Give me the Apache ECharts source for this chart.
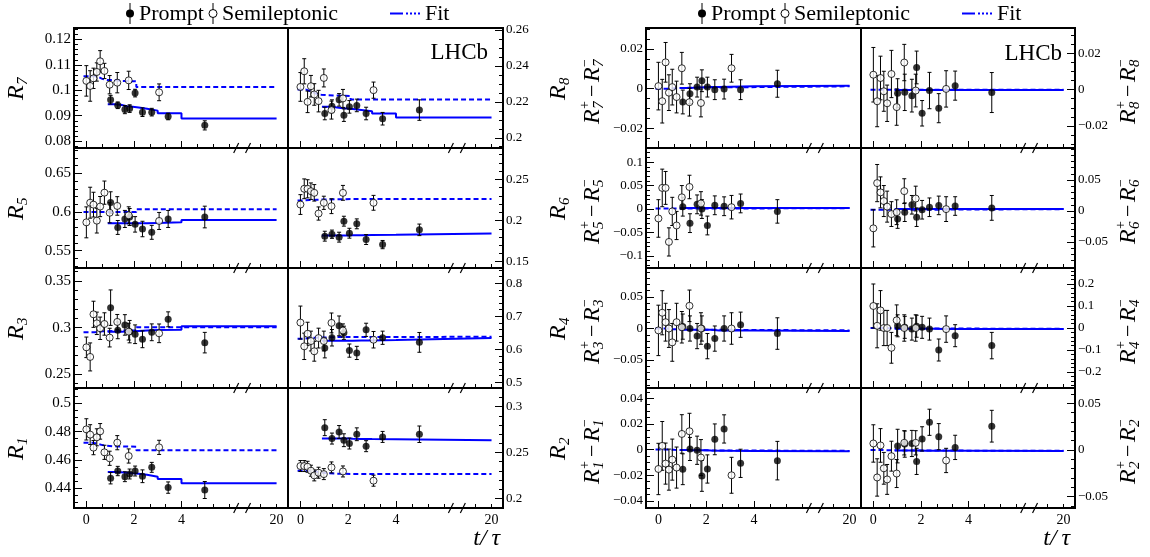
<!DOCTYPE html>
<html>
<head>
<meta charset="utf-8">
<script src="https://cdn.jsdelivr.net/npm/echarts@6/dist/echarts.min.js"></script>
<style>
  html, body { margin: 0; padding: 0; background: #fff; }
  #chart { width: 1150px; height: 557px; }
</style>
</head>
<body>
<div id="chart"></div>
<script>
// ---- time binning (t / tau) ----
const tPrompt = [1.02, 1.32, 1.62, 1.82, 2.05, 2.36, 2.75, 3.44, 4.98];
const tSemi = [0, 0.16, 0.3, 0.44, 0.58, 0.76, 0.98, 1.3, 1.78, 3.06];
const edgesPrompt = [0.9, 1.15, 1.45, 1.7, 1.95, 2.2, 2.55, 3.0, 4.0, 20];
const edgesSemi = [-0.12, 0.08, 0.23, 0.37, 0.51, 0.67, 0.87, 1.12, 1.5, 2.1, 20];

// ---- measured ratios: [value, uncertainty] per time bin; fit levels per bin ----
const R7_prompt = [[0.0963,0.0017],[0.0941,0.0013],[0.0924,0.0016],[0.0928,0.0015],[0.0989,0.0015],[0.0914,0.0017],[0.0914,0.0015],[0.0897,0.0013],[0.0862,0.0018]];
const R7_semi = [[0.1037,0.006],[0.1017,0.006],[0.1047,0.004],[0.1072,0.0036],[0.1114,0.0042],[0.1076,0.003],[0.1022,0.0036],[0.103,0.004],[0.1039,0.0036],[0.0992,0.0033]];
const R7_fitPrompt = [0.0945,0.0943,0.0937,0.0935,0.0932,0.0927,0.092,0.091,0.0889];
const R7_fitSemi = [0.1055,0.1055,0.1055,0.1052,0.1045,0.104,0.104,0.1037,0.1035,0.1013];

const R8_prompt = [[0.2135,0.0035],[0.2176,0.0035],[0.2211,0.0035],[0.2126,0.0035],[0.2172,0.0035],[0.218,0.0035],[0.2135,0.0035],[0.2106,0.0035],[0.2154,0.0057]];
const R8_semi = [[0.2283,0.008],[0.237,0.007],[0.22,0.006],[0.2287,0.006],[0.2241,0.006],[0.2204,0.006],[0.2333,0.005],[0.2154,0.005],[0.2219,0.005],[0.2265,0.0045]];
const R8_fitPrompt = [0.2172,0.217,0.2166,0.2163,0.216,0.2155,0.2148,0.2135,0.2113];
const R8_fitSemi = [0.2268,0.2268,0.2262,0.2255,0.2245,0.224,0.2237,0.2235,0.2233,0.2213];

const R5_prompt = [[0.6121,0.014],[0.58,0.009],[0.591,0.011],[0.5935,0.011],[0.584,0.01],[0.578,0.01],[0.5737,0.009],[0.591,0.011],[0.5935,0.014]];
const R5_semi = [[0.5866,0.02],[0.612,0.02],[0.6095,0.016],[0.5888,0.016],[0.607,0.013],[0.625,0.015],[0.599,0.013],[0.6078,0.012],[0.5957,0.011],[0.5884,0.011]];
const R5_fitPrompt = [0.5853,0.5853,0.5853,0.5853,0.5853,0.5853,0.5858,0.5866,0.5897];
const R5_fitSemi = [0.6,0.6,0.6,0.6,0.6,0.6,0.6,0.6,0.6,0.6035];

const R6_prompt = [[0.181,0.006],[0.1834,0.005],[0.1798,0.006],[0.1992,0.006],[0.1846,0.006],[0.196,0.006],[0.1769,0.006],[0.1708,0.005],[0.1887,0.007]];
const R6_semi = [[0.2194,0.012],[0.2385,0.012],[0.2385,0.011],[0.2356,0.01],[0.2336,0.01],[0.2085,0.008],[0.2215,0.008],[0.2174,0.009],[0.2336,0.009],[0.2215,0.009]];
const R6_fitPrompt = [0.1818,0.1818,0.1818,0.1818,0.182,0.1822,0.1824,0.1826,0.1842];
const R6_fitSemi = [0.2243,0.2245,0.2248,0.225,0.2252,0.2254,0.2256,0.2258,0.226,0.2262];

const R3_prompt = [[0.3214,0.019],[0.2971,0.009],[0.3029,0.011],[0.2957,0.012],[0.2929,0.01],[0.2875,0.009],[0.295,0.009],[0.3089,0.008],[0.2839,0.011]];
const R3_semi = [[0.2789,0.011],[0.2686,0.015],[0.3143,0.014],[0.3046,0.012],[0.2993,0.012],[0.3039,0.012],[0.2893,0.01],[0.3061,0.008],[0.2957,0.009],[0.2939,0.01]];
const R3_fitPrompt = [0.2957,0.2957,0.2958,0.296,0.2965,0.297,0.2975,0.2978,0.3015];
const R3_fitSemi = [0.295,0.295,0.295,0.2955,0.296,0.2962,0.2965,0.2968,0.297,0.3005];

const R4_prompt = [[0.604,0.03],[0.635,0.025],[0.671,0.03],[0.65,0.02],[0.596,0.02],[0.589,0.02],[0.659,0.02],[0.635,0.02],[0.621,0.03]];
const R4_semi = [[0.681,0.05],[0.609,0.04],[0.647,0.035],[0.625,0.03],[0.594,0.03],[0.634,0.03],[0.625,0.03],[0.68,0.03],[0.657,0.02],[0.629,0.025]];
const R4_fitPrompt = [0.626,0.626,0.626,0.626,0.626,0.627,0.627,0.628,0.634];
const R4_fitSemi = [0.632,0.633,0.634,0.635,0.635,0.636,0.636,0.637,0.637,0.638];

const R1_prompt = [[0.4471,0.004],[0.4522,0.0033],[0.4482,0.0035],[0.4501,0.0035],[0.4522,0.0035],[0.4485,0.0045],[0.4548,0.0035],[0.4405,0.004],[0.4388,0.006]];
const R1_semi = [[0.4816,0.0075],[0.4779,0.007],[0.4687,0.005],[0.476,0.006],[0.4802,0.0055],[0.4654,0.005],[0.4612,0.005],[0.4722,0.005],[0.4628,0.005],[0.4689,0.005]];
const R1_fitPrompt = [0.4515,0.4513,0.451,0.4506,0.4503,0.4495,0.4482,0.4466,0.4435];
const R1_fitSemi = [0.4722,0.4722,0.4718,0.4712,0.4705,0.47,0.4697,0.4695,0.4694,0.4668];

const R2_prompt = [[0.2771,0.0087],[0.2652,0.006],[0.2724,0.007],[0.2634,0.007],[0.2598,0.006],[0.2699,0.007],[0.2569,0.006],[0.267,0.006],[0.2699,0.009]];
const R2_semi = [[0.2352,0.006],[0.2352,0.006],[0.2344,0.006],[0.2301,0.006],[0.225,0.006],[0.2279,0.006],[0.2264,0.006],[0.2337,0.006],[0.2293,0.006],[0.2192,0.006]];
const R2_fitPrompt = [0.2652,0.2652,0.2652,0.2652,0.265,0.2648,0.2646,0.2644,0.2634];
const R2_fitSemi = [0.2301,0.2301,0.2301,0.2301,0.229,0.2282,0.2275,0.2268,0.2266,0.2264];

// ---- asymmetries R+ - R- ----
const dR7_prompt = [[-0.0067,0.006],[-0.0025,0.005],[0.0008,0.005],[0.004,0.0055],[0.0008,0.005],[-0.0005,0.005],[-0.0002,0.005],[-0.0005,0.005],[0.0025,0.0068]];
const dR7_semi = [[0.0013,0.012],[-0.0063,0.011],[0.0133,0.01],[-0.002,0.009],[0.0008,0.009],[-0.0042,0.008],[0.0103,0.008],[-0.0068,0.007],[-0.0072,0.007],[0.0103,0.007]];
const dR7_fitPrompt = [0.0004,0.0005,0.0006,0.0007,0.0008,0.0009,0.001,0.0012,0.0015];
const dR7_fitSemi = [0,0,0,0.0001,0.0002,0.0003,0.0004,0.0005,0.0006,0.0012];

const dR8_prompt = [[-0.002,0.008],[-0.0015,0.01],[-0.0033,0.009],[0.0122,0.009],[-0.013,0.007],[-0.0005,0.01],[-0.0102,0.008],[0.0022,0.008],[-0.0016,0.011]];
const dR8_semi = [[0.0082,0.015],[-0.0064,0.014],[0.0064,0.012],[-0.0009,0.011],[-0.0075,0.01],[0.0086,0.013],[-0.0096,0.01],[0.0149,0.01],[-0.0005,0.009],[0.0004,0.01]];
const dR8_fitPrompt = [-0.0002,-0.0002,-0.0002,-0.0002,-0.0002,-0.0002,-0.0002,-0.0002,-0.0002];
const dR8_fitSemi = [0,0,0,0,0,0,0,0,0,0];

const dR5_prompt = [[0.005,0.02],[-0.03,0.02],[0.01,0.02],[0,0.02],[-0.035,0.02],[0.008,0.02],[0.006,0.02],[0.012,0.02],[-0.005,0.025]];
const dR5_semi = [[-0.02,0.04],[0.045,0.04],[0.045,0.035],[-0.07,0.03],[-0.005,0.03],[-0.035,0.03],[0.025,0.025],[0.047,0.025],[0.012,0.025],[0.004,0.025]];
const dR5_fitPrompt = [0.002,0.002,0.002,0.002,0.002,0.002,0.002,0.002,0.002];
const dR5_fitSemi = [0.001,0.001,0.001,0.001,0.001,0.001,0.001,0.001,0.001,0.002];

const dR6_prompt = [[-0.013,0.015],[-0.002,0.015],[0.01,0.015],[-0.01,0.015],[0.002,0.015],[0.006,0.015],[0.009,0.015],[0.008,0.015],[0.005,0.02]];
const dR6_semi = [[-0.028,0.03],[0.045,0.03],[0.03,0.025],[0.016,0.025],[0.007,0.025],[-0.005,0.02],[-0.002,0.02],[0.032,0.02],[0.02,0.02],[0.003,0.02]];
const dR6_fitPrompt = [0.003,0.003,0.003,0.003,0.003,0.003,0.003,0.003,0.003];
const dR6_fitSemi = [0.002,0.002,0.002,0.002,0.002,0.002,0.002,0.002,0.002,0.003];

const dR3_prompt = [[0.003,0.02],[0,0.02],[-0.012,0.02],[0,0.02],[-0.028,0.02],[-0.016,0.02],[0,0.02],[0.006,0.02],[-0.008,0.025]];
const dR3_semi = [[-0.003,0.04],[0.025,0.035],[0.01,0.03],[0,0.03],[-0.022,0.03],[0.01,0.03],[0.002,0.025],[0.036,0.025],[0,0.025],[0,0.025]];
const dR3_fitPrompt = [-0.002,-0.002,-0.002,-0.002,-0.002,-0.003,-0.003,-0.003,-0.004];
const dR3_fitSemi = [0,0,0,-0.001,-0.001,-0.001,-0.002,-0.002,-0.002,-0.003];

const dR4_prompt = [[0.01,0.05],[0.003,0.05],[-0.005,0.05],[0.008,0.05],[0.003,0.05],[-0.005,0.05],[-0.1,0.05],[-0.035,0.05],[-0.08,0.06]];
const dR4_semi = [[0.1,0.1],[0.01,0.1],[0.08,0.09],[0,0.08],[0,0.08],[-0.09,0.07],[0.035,0.07],[0,0.06],[0,0.06],[-0.005,0.06]];
const dR4_fitPrompt = [-0.003,-0.003,-0.003,-0.003,-0.003,-0.003,-0.004,-0.004,-0.005];
const dR4_fitSemi = [0,0,0,0,-0.001,-0.001,-0.002,-0.002,-0.002,-0.004];

const dR1_prompt = [[-0.0153,0.012],[0.0005,0.009],[-0.0005,0.011],[-0.0205,0.012],[-0.0151,0.011],[0.008,0.012],[0.0161,0.011],[-0.0107,0.011],[-0.0086,0.015]];
const dR1_semi = [[-0.0151,0.02],[0.0029,0.019],[-0.0109,0.016],[-0.0156,0.016],[-0.0078,0.016],[-0.014,0.016],[0.0122,0.015],[0.0143,0.014],[-0.0062,0.014],[-0.02,0.014]];
const dR1_fitPrompt = [-0.0004,-0.0005,-0.0006,-0.0006,-0.0007,-0.0008,-0.0009,-0.001,-0.0012];
const dR1_fitSemi = [0,0,0,-0.0001,-0.0002,-0.0003,-0.0004,-0.0005,-0.0006,-0.001];

const dR2_prompt = [[0.0042,0.018],[0.0063,0.014],[0.007,0.014],[-0.0122,0.014],[0.0119,0.013],[0.0297,0.014],[0.0143,0.014],[0.0028,0.013],[0.0255,0.017]];
const dR2_semi = [[0.007,0.02],[-0.0294,0.02],[0.0049,0.018],[-0.0196,0.017],[-0.0315,0.016],[-0.0066,0.016],[-0.0252,0.015],[0.0077,0.013],[0.0077,0.013],[-0.0112,0.013]];
const dR2_fitPrompt = [-0.0005,-0.0005,-0.0006,-0.0006,-0.0007,-0.0007,-0.0008,-0.0008,-0.001];
const dR2_fitSemi = [0,0,0,-0.0001,-0.0002,-0.0003,-0.0004,-0.0005,-0.0006,-0.0008];

// ---- axis tick labels ----
const xTickLabels = ['0', '2', '4', '20'];
const xTickLabelPos = [0, 2, 4, 8];   // t = 20 sits at 8 after the axis break

// ---- layout ----
const FONT = '"Liberation Serif", "Times New Roman", serif';
const BLUE = '#0000ff';
const colLeft = [74, 288, 646, 861];
const colWidth = [214, 215, 215, 214];
const rowTop = [28, 148, 268, 388];
const ROW_H = 120;
const XMIN = -0.52, XMAX = 8.48;
const xPos = t => (t >= 20 ? 8 : t);
const breakMarks = [6.3, 6.8];

const panels = [
  { col: 0, row: 0, prompt: R7_prompt, semi: R7_semi, fitP: R7_fitPrompt, fitS: R7_fitSemi, ymin: 0.0773, ymax: 0.1245, major: [0.08, 0.09, 0.1, 0.11, 0.12], minor: 0.002, side: 'left', fs: 15 },
  { col: 1, row: 0, prompt: R8_prompt, semi: R8_semi, fitP: R8_fitPrompt, fitS: R8_fitSemi, ymin: 0.1943, ymax: 0.2611, major: [0.2, 0.22, 0.24, 0.26], minor: 0.005, side: 'right', fs: 13 },
  { col: 0, row: 1, prompt: R5_prompt, semi: R5_semi, fitP: R5_fitPrompt, fitS: R5_fitSemi, ymin: 0.5276, ymax: 0.6827, major: [0.55, 0.6, 0.65], minor: 0.01, side: 'left', fs: 15 },
  { col: 1, row: 1, prompt: R6_prompt, semi: R6_semi, fitP: R6_fitPrompt, fitS: R6_fitSemi, ymin: 0.1424, ymax: 0.288, major: [0.15, 0.2, 0.25], minor: 0.01, side: 'right', fs: 13 },
  { col: 0, row: 2, prompt: R3_prompt, semi: R3_semi, fitP: R3_fitPrompt, fitS: R3_fitSemi, ymin: 0.2353, ymax: 0.3639, major: [0.25, 0.3, 0.35], minor: 0.01, side: 'left', fs: 15 },
  { col: 1, row: 2, prompt: R4_prompt, semi: R4_semi, fitP: R4_fitPrompt, fitS: R4_fitSemi, ymin: 0.4827, ymax: 0.8464, major: [0.5, 0.6, 0.7, 0.8], minor: 0.02, side: 'right', fs: 13 },
  { col: 0, row: 3, prompt: R1_prompt, semi: R1_semi, fitP: R1_fitPrompt, fitS: R1_fitSemi, ymin: 0.4261, ymax: 0.5108, major: [0.44, 0.46, 0.48, 0.5], minor: 0.005, side: 'left', fs: 15 },
  { col: 1, row: 3, prompt: R2_prompt, semi: R2_semi, fitP: R2_fitPrompt, fitS: R2_fitSemi, ymin: 0.1894, ymax: 0.3204, major: [0.2, 0.25, 0.3], minor: 0.01, side: 'right', fs: 13 },

  { col: 2, row: 0, prompt: dR7_prompt, semi: dR7_semi, fitP: dR7_fitPrompt, fitS: dR7_fitSemi, ymin: -0.0299, ymax: 0.0306, major: [-0.02, 0, 0.02], minor: 0.005, side: 'left', fs: 13 },
  { col: 3, row: 0, prompt: dR8_prompt, semi: dR8_semi, fitP: dR8_fitPrompt, fitS: dR8_fitSemi, ymin: -0.0321, ymax: 0.0339, major: [-0.02, 0, 0.02], minor: 0.005, side: 'right', fs: 13 },
  { col: 2, row: 1, prompt: dR5_prompt, semi: dR5_semi, fitP: dR5_fitPrompt, fitS: dR5_fitSemi, ymin: -0.1255, ymax: 0.13, major: [-0.1, -0.05, 0, 0.05, 0.1], minor: 0.01, side: 'left', fs: 13 },
  { col: 3, row: 1, prompt: dR6_prompt, semi: dR6_semi, fitP: dR6_fitPrompt, fitS: dR6_fitSemi, ymin: -0.092, ymax: 0.1016, major: [-0.05, 0, 0.05], minor: 0.01, side: 'right', fs: 13 },
  { col: 2, row: 2, prompt: dR3_prompt, semi: dR3_semi, fitP: dR3_fitPrompt, fitS: dR3_fitSemi, ymin: -0.0944, ymax: 0.096, major: [-0.05, 0, 0.05], minor: 0.01, side: 'left', fs: 13 },
  { col: 3, row: 2, prompt: dR4_prompt, semi: dR4_semi, fitP: dR4_fitPrompt, fitS: dR4_fitSemi, ymin: -0.2727, ymax: 0.2727, major: [-0.2, -0.1, 0, 0.1, 0.2], minor: 0.02, side: 'right', fs: 13 },
  { col: 2, row: 3, prompt: dR1_prompt, semi: dR1_semi, fitP: dR1_fitPrompt, fitS: dR1_fitSemi, ymin: -0.0455, ymax: 0.048, major: [-0.04, -0.02, 0, 0.02, 0.04], minor: 0.005, side: 'left', fs: 13 },
  { col: 3, row: 3, prompt: dR2_prompt, semi: dR2_semi, fitP: dR2_fitPrompt, fitS: dR2_fitSemi, ymin: -0.0621, ymax: 0.0664, major: [-0.05, 0, 0.05], minor: 0.01, side: 'right', fs: 13 }
];

// ---- helpers ----
function multiplesIn(min, max, step) {
  const out = [];
  for (let k = Math.ceil(min / step - 1e-6); k * step <= max + 1e-9; k++) out.push(+(k * step).toFixed(6));
  return out;
}
function fmt(v) {
  const s = String(+v.toFixed(4));
  return s.charAt(0) === '-' ? '\u2212' + s.slice(1) : s;
}
function stepPoints(edges, levels) {
  const pts = [];
  levels.forEach((v, i) => { pts.push([xPos(edges[i]), v]); pts.push([xPos(edges[i + 1]), v]); });
  return pts;
}
const xMinorTicks = multiplesIn(0, 8, 2 / 3).filter(v => v < 6.1 || v > 6.9);
const xMajorTicks = [0, 2, 4];

function errorBar(params, api) {
  const x = api.value(0), y = api.value(1), e = api.value(2);
  const hi = api.coord([x, y + e]);
  const lo = api.coord([x, y - e]);
  const c = 2;
  const st = { stroke: '#000', lineWidth: 1 };
  return {
    type: 'group',
    children: [
      { type: 'line', shape: { x1: hi[0], y1: hi[1], x2: lo[0], y2: lo[1] }, style: st },
      { type: 'line', shape: { x1: hi[0] - c, y1: hi[1], x2: hi[0] + c, y2: hi[1] }, style: st },
      { type: 'line', shape: { x1: lo[0] - c, y1: lo[1], x2: lo[0] + c, y2: lo[1] }, style: st }
    ]
  };
}
function breakMark(params, api) {
  const p = api.coord([api.value(0), api.value(1)]);
  return {
    type: 'line',
    shape: { x1: p[0] - 2.5, y1: p[1] + 5, x2: p[0] + 2.5, y2: p[1] - 5 },
    style: { stroke: '#000', lineWidth: 1.2 }
  };
}

const grid = [], xAxis = [], yAxis = [], series = [];
const noLine = { show: false, onZero: false };
panels.forEach((p, i) => {
  grid.push({
    left: colLeft[p.col], top: rowTop[p.row], width: colWidth[p.col], height: ROW_H,
    show: true, borderColor: '#000', borderWidth: 2, backgroundColor: 'rgba(0,0,0,0)'
  });
  const xi = xAxis.length, yi = yAxis.length;
  const tickStyle = { color: '#000', width: 1 };
  xAxis.push({
    gridIndex: i, type: 'value', min: XMIN, max: XMAX, position: 'bottom',
    splitLine: { show: false }, axisLine: noLine,
    axisTick: { show: true, inside: true, length: 7, customValues: xMajorTicks, lineStyle: tickStyle },
    axisLabel: {
      show: p.row === 3, customValues: xTickLabelPos,
      formatter: v => xTickLabels[xTickLabelPos.indexOf(v)],
      color: '#000', fontFamily: FONT, fontSize: 14, margin: 5
    }
  });
  xAxis.push({
    gridIndex: i, type: 'value', min: XMIN, max: XMAX, position: 'bottom',
    splitLine: { show: false }, axisLine: noLine,
    axisTick: { show: true, inside: true, length: 4, customValues: xMinorTicks, lineStyle: tickStyle },
    axisLabel: { show: false }
  });
  yAxis.push({
    gridIndex: i, type: 'value', min: p.ymin, max: p.ymax, position: p.side,
    splitLine: { show: false }, axisLine: noLine,
    axisTick: { show: true, inside: true, length: 8, customValues: p.major, lineStyle: tickStyle },
    axisLabel: { show: true, customValues: p.major, formatter: fmt, color: '#000', fontFamily: FONT, fontSize: p.fs, margin: 3 }
  });
  yAxis.push({
    gridIndex: i, type: 'value', min: p.ymin, max: p.ymax, position: p.side,
    splitLine: { show: false }, axisLine: noLine,
    axisTick: { show: true, inside: true, length: 4, customValues: multiplesIn(p.ymin, p.ymax, p.minor), lineStyle: tickStyle },
    axisLabel: { show: false }
  });

  const common = { xAxisIndex: xi, yAxisIndex: yi, animation: false, silent: true };
  series.push(Object.assign({
    type: 'line', data: stepPoints(edgesSemi, p.fitS), showSymbol: false, symbol: 'none', z: 2,
    lineStyle: { color: BLUE, width: 2, type: [5, 3] }
  }, common));
  series.push(Object.assign({
    type: 'line', data: stepPoints(edgesPrompt, p.fitP), showSymbol: false, symbol: 'none', z: 2,
    lineStyle: { color: BLUE, width: 2, type: 'solid' }
  }, common));
  series.push(Object.assign({
    type: 'custom', renderItem: errorBar, z: 3,
    encode: { x: 0, y: 1 },
    data: p.prompt.map((d, k) => [tPrompt[k], d[0], d[1]])
  }, common));
  series.push(Object.assign({
    type: 'custom', renderItem: errorBar, z: 3,
    encode: { x: 0, y: 1 },
    data: p.semi.map((d, k) => [tSemi[k], d[0], d[1]])
  }, common));
  series.push(Object.assign({
    type: 'scatter', symbol: 'circle', symbolSize: 7, z: 4,
    itemStyle: { color: '#000' },
    data: p.prompt.map((d, k) => [tPrompt[k], d[0]])
  }, common));
  series.push(Object.assign({
    type: 'scatter', symbol: 'circle', symbolSize: 7, z: 4,
    itemStyle: { color: '#fff', borderColor: '#000', borderWidth: 1 },
    data: p.semi.map((d, k) => [tSemi[k], d[0]])
  }, common));
  series.push(Object.assign({
    type: 'custom', renderItem: breakMark, z: 5, clip: false,
    encode: { x: 0, y: 1 },
    data: breakMarks.map(x => [x, p.ymin])
  }, common));
});

// ---- text: legends, axis titles, experiment label ----
const graphic = [];
function txt(x, y, text, size, opts) {
  return {
    type: 'text', x: x, y: y,
    style: Object.assign({ text: text, font: size + 'px ' + FONT, fill: '#000', textAlign: 'left', textVerticalAlign: 'middle', verticalAlign: 'middle' }, opts || {})
  };
}
function legendBlock(dx) {
  graphic.push({ type: 'line', shape: { x1: 130 + dx, y1: 3, x2: 130 + dx, y2: 24 }, style: { stroke: '#000', lineWidth: 1 } });
  graphic.push({ type: 'circle', shape: { cx: 130 + dx, cy: 13.5, r: 4 }, style: { fill: '#000' } });
  graphic.push(txt(139 + dx, 14, 'Prompt', 22));
  graphic.push({ type: 'line', shape: { x1: 213 + dx, y1: 3, x2: 213 + dx, y2: 24 }, style: { stroke: '#000', lineWidth: 1 } });
  graphic.push({ type: 'circle', shape: { cx: 213 + dx, cy: 13.5, r: 4 }, style: { fill: '#fff', stroke: '#000', lineWidth: 1 } });
  graphic.push(txt(222 + dx, 14, 'Semileptonic', 22));
  graphic.push({ type: 'line', shape: { x1: 390 + dx, y1: 13.5, x2: 403 + dx, y2: 13.5 }, style: { stroke: BLUE, lineWidth: 2 } });
  graphic.push({ type: 'line', shape: { x1: 406 + dx, y1: 13.5, x2: 422 + dx, y2: 13.5 }, style: { stroke: BLUE, lineWidth: 2, lineDash: [2, 2] } });
  graphic.push(txt(425 + dx, 14, 'Fit', 22));
}
legendBlock(0);
legendBlock(572);

// rotated axis title built from italic pieces (main letter, sub/superscripts)
function rotTitle(cx, cy, pieces) {
  graphic.push({
    type: 'group', x: cx, y: cy, rotation: Math.PI / 2,
    children: pieces.map(pc => ({
      type: 'text', x: pc[1], y: pc[2],
      style: { text: pc[0], font: (pc[4] ? '' : 'italic ') + pc[3] + 'px ' + FONT, fill: '#000', textAlign: 'left', textVerticalAlign: 'middle', verticalAlign: 'middle' }
    }))
  });
}
function titleR(cx, cy, n) {
  rotTitle(cx, cy, [['R', -12, 0, 24], [n, 3, 6, 15]]);
}
function titleDiff(cx, cy, n) {
  rotTitle(cx, cy, [
    ['R', -36, 0, 24], ['+', -21, -8, 14, true], [n, -21, 6, 15],
    ['\u2212', -9, 0, 22, true],
    ['R', 6, 0, 24], ['\u2212', 21, -8, 14, true], [n, 21, 6, 15]
  ]);
}
const rowMid = rowTop.map(t => t + ROW_H / 2);
const leftNames = ['7', '5', '3', '1'];
const rightNames = ['8', '6', '4', '2'];
rowMid.forEach((cy, r) => {
  titleR(17, cy, leftNames[r]);
  titleR(559, cy, rightNames[r]);
  titleDiff(593, cy, leftNames[r]);
  titleDiff(1129, cy, rightNames[r]);
});
graphic.push(txt(488, 53, 'LHCb', 23, { textAlign: 'right' }));
graphic.push(txt(1062, 54, 'LHCb', 23, { textAlign: 'right' }));
graphic.push(txt(500, 539, 't/\u2009\u03c4', 24, { textAlign: 'right', font: 'italic 24px ' + FONT }));
graphic.push(txt(1070, 539, 't/\u2009\u03c4', 24, { textAlign: 'right', font: 'italic 24px ' + FONT }));

const chart = echarts.init(document.getElementById('chart'), null, { renderer: 'canvas' });
chart.setOption({
  animation: false,
  backgroundColor: '#fff',
  grid: grid,
  xAxis: xAxis,
  yAxis: yAxis,
  series: series,
  graphic: graphic
});
</script>
</body>
</html>
